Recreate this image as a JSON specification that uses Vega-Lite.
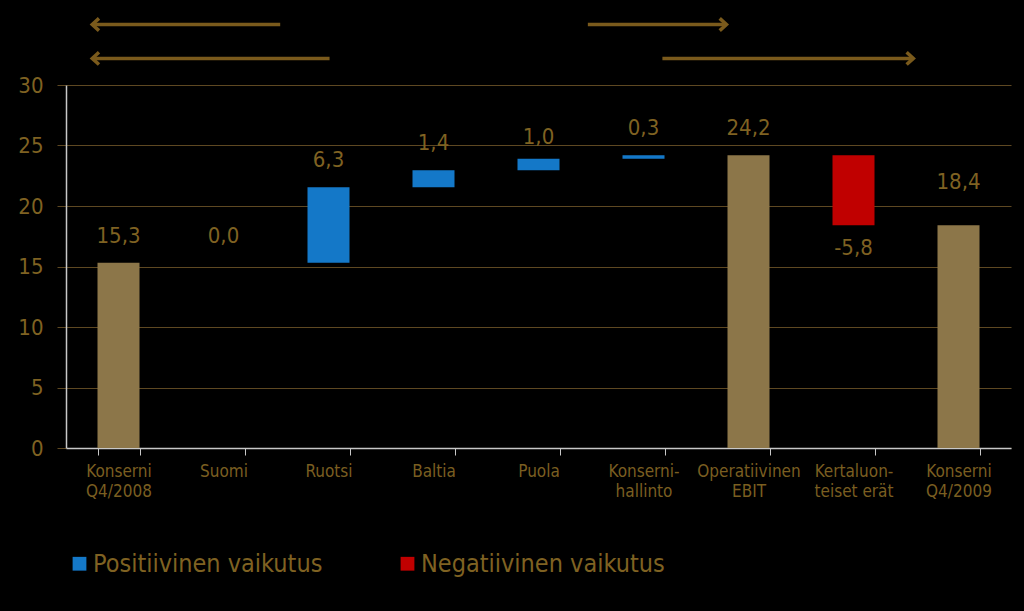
{
  "$schema": "https://vega.github.io/schema/vega-lite/v6.json",
  "width": 945,
  "height": 363,
  "autosize": {"type": "none"},
  "padding": {"left": 66, "top": 85, "right": 13, "bottom": 163},
  "background": "#000000",
  "config": {
    "view": {"stroke": null},
    "font": "Liberation Sans Narrow, DejaVu Sans Condensed, sans-serif"
  },
  "datasets": {
    "bars": [
      {"cat": "Konserni|Q4/2008", "start": 0, "end": 15.3, "label": "15,3", "type": "Yhteensä", "side": "above"},
      {"cat": "Suomi", "start": 15.3, "end": 15.3, "label": "0,0", "type": "Positiivinen vaikutus", "side": "above"},
      {"cat": "Ruotsi", "start": 15.3, "end": 21.55, "label": "6,3", "type": "Positiivinen vaikutus", "side": "above"},
      {"cat": "Baltia", "start": 21.55, "end": 22.95, "label": "1,4", "type": "Positiivinen vaikutus", "side": "above"},
      {"cat": "Puola", "start": 22.95, "end": 23.9, "label": "1,0", "type": "Positiivinen vaikutus", "side": "low"},
      {"cat": "Konserni-|hallinto", "start": 23.9, "end": 24.2, "label": "0,3", "type": "Positiivinen vaikutus", "side": "above"},
      {"cat": "Operatiivinen|EBIT", "start": 0, "end": 24.2, "label": "24,2", "type": "Yhteensä", "side": "above"},
      {"cat": "Kertaluon-|teiset erät", "start": 24.2, "end": 18.4, "label": "-5,8", "type": "Negatiivinen vaikutus", "side": "below"},
      {"cat": "Konserni|Q4/2009", "start": 0, "end": 18.4, "label": "18,4", "type": "Yhteensä", "side": "high"}
    ],
    "arrows": [
      {"from": 2.04, "to": 0.25, "level": 35.0, "dir": "left"},
      {"from": 2.51, "to": 0.25, "level": 32.2, "dir": "left"},
      {"from": 4.97, "to": 6.29, "level": 35.0, "dir": "right"},
      {"from": 5.68, "to": 8.07, "level": 32.2, "dir": "right"}
    ]
  },
  "resolve": {"scale": {"x": "independent"}},
  "layer": [
    {
      "data": {"name": "bars"},
      "layer": [
        {
          "mark": {"type": "bar", "clip": false},
          "encoding": {
            "x": {
              "field": "cat", "type": "nominal", "sort": null,
              "scale": {"paddingInner": 0.6, "paddingOuter": 0.3},
              "axis": {
                "title": null,
                "labelAngle": 0,
                "labelExpr": "split(datum.label, '|')",
                "labelColor": "#7a5e20",
                "labelFontSize": 17,
                "labelLineHeight": 20,
                "labelPadding": 8,
                "labelBaseline": "top",
                "domainColor": "#c8c8c8",
                "domainWidth": 1.5,
                "tickColor": "#c8c8c8",
                "tickSize": 7,
                "tickBand": "extent",
                "grid": false
              }
            },
            "y": {
              "field": "start", "type": "quantitative",
              "scale": {"domain": [0, 30], "nice": false, "zero": true},
              "axis": {
                "title": null,
                "values": [0, 5, 10, 15, 20, 25, 30],
                "labelColor": "#7f6222",
                "labelFontSize": 22,
                "labelPadding": 14,
                "domainColor": "#c8c8c8",
                "domainWidth": 1.5,
                "tickColor": "#5e4822",
                "tickSize": 9,
                "gridColor": "#5e4822",
                "gridWidth": 1.2
              }
            },
            "y2": {"field": "end"},
            "color": {
              "field": "type", "type": "nominal",
              "scale": {
                "domain": ["Positiivinen vaikutus", "Negatiivinen vaikutus", "Yhteensä"],
                "range": ["#1478c8", "#c00000", "#8c7649"]
              },
              "legend": {
                "title": null,
                "values": ["Positiivinen vaikutus", "Negatiivinen vaikutus"],
                "orient": "none",
                "legendX": 1,
                "legendY": 466,
                "direction": "horizontal",
                "symbolType": "square",
                "symbolSize": 190,
                "symbolStrokeWidth": 0,
                "labelFontSize": 25,
                "labelColor": "#7f6222",
                "labelOffset": 1,
                "columnPadding": 72,
                "labelLimit": 400
              }
            }
          }
        },
        {
          "transform": [{"filter": "datum.side === 'above'"}],
          "mark": {"type": "text", "baseline": "middle", "dy": -27, "fontSize": 22, "color": "#7f6222"},
          "encoding": {
            "x": {"field": "cat", "type": "nominal", "sort": null},
            "y": {"field": "end", "type": "quantitative"},
            "text": {"field": "label"}
          }
        },
        {
          "transform": [{"filter": "datum.side === 'low'"}],
          "mark": {"type": "text", "baseline": "middle", "dy": -22, "fontSize": 22, "color": "#7f6222"},
          "encoding": {
            "x": {"field": "cat", "type": "nominal", "sort": null},
            "y": {"field": "end", "type": "quantitative"},
            "text": {"field": "label"}
          }
        },
        {
          "transform": [{"filter": "datum.side === 'high'"}],
          "mark": {"type": "text", "baseline": "middle", "dy": -43, "fontSize": 22, "color": "#7f6222"},
          "encoding": {
            "x": {"field": "cat", "type": "nominal", "sort": null},
            "y": {"field": "end", "type": "quantitative"},
            "text": {"field": "label"}
          }
        },
        {
          "transform": [{"filter": "datum.side === 'below'"}],
          "mark": {"type": "text", "baseline": "middle", "dy": 23, "fontSize": 22, "color": "#7f6222"},
          "encoding": {
            "x": {"field": "cat", "type": "nominal", "sort": null},
            "y": {"field": "end", "type": "quantitative"},
            "text": {"field": "label"}
          }
        }
      ]
    },
    {
      "data": {"name": "arrows"},
      "layer": [
        {
          "mark": {"type": "rule", "clip": false, "color": "#7a5a1c", "strokeWidth": 3.5},
          "encoding": {
            "x": {"field": "from", "type": "quantitative", "scale": {"domain": [0, 9], "nice": false, "zero": false}, "axis": null},
            "x2": {"field": "to"},
            "y": {"field": "level", "type": "quantitative"}
          }
        },
        {
          "transform": [{"filter": "datum.dir === 'left'"}],
          "mark": {"type": "point", "clip": false, "shape": "M1.1,-1L0,0L1.1,1", "filled": false, "color": "#7a5a1c", "strokeWidth": 3.5, "size": 150, "opacity": 1},
          "encoding": {
            "x": {"field": "to", "type": "quantitative"},
            "y": {"field": "level", "type": "quantitative"}
          }
        },
        {
          "transform": [{"filter": "datum.dir === 'right'"}],
          "mark": {"type": "point", "clip": false, "shape": "M-1.1,-1L0,0L-1.1,1", "filled": false, "color": "#7a5a1c", "strokeWidth": 3.5, "size": 150, "opacity": 1},
          "encoding": {
            "x": {"field": "to", "type": "quantitative"},
            "y": {"field": "level", "type": "quantitative"}
          }
        }
      ]
    }
  ]
}
